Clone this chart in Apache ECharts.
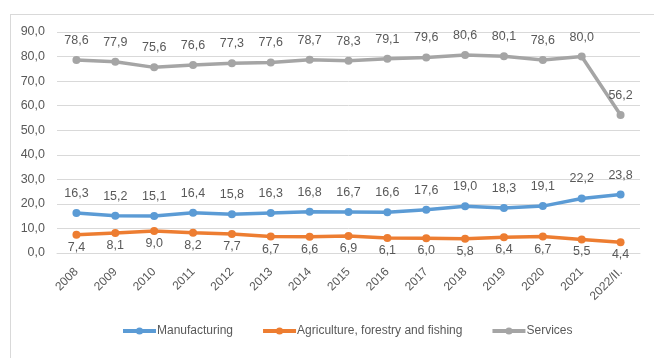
<!DOCTYPE html>
<html>
<head>
<meta charset="utf-8">
<script src="https://cdn.jsdelivr.net/npm/echarts@6/dist/echarts.min.js"></script>
<style>
  html, body { margin: 0; padding: 0; background: #fff; }
  #frame { position: absolute; left: 10px; top: 14px; width: 660px; height: 360px;
           border-left: 1px solid #d9d9d9; border-top: 1px solid #d9d9d9; }
  #chart { position: absolute; left: 0; top: 0; width: 654px; height: 358px; }
</style>
</head>
<body>
<div id="frame"></div>
<div id="chart"></div>
<script>
const years = ['2008','2009','2010','2011','2012','2013','2014','2015','2016','2017','2018','2019','2020','2021','2022/II.'];
const manufacturing = [16.3,15.2,15.1,16.4,15.8,16.3,16.8,16.7,16.6,17.6,19.0,18.3,19.1,22.2,23.8];
const agriculture = [7.4,8.1,9.0,8.2,7.7,6.7,6.6,6.9,6.1,6.0,5.8,6.4,6.7,5.5,4.4];
const services = [78.6,77.9,75.6,76.6,77.3,77.6,78.7,78.3,79.1,79.6,80.6,80.1,78.6,80.0,56.2];

const textColor = '#595959';
const font = 'Liberation Sans, Arial, sans-serif';
const fmt = v => v.toFixed(1).replace('.', ',');

function lineSeries(name, data, color, pos) {
  return {
    name: name,
    type: 'line',
    data: data,
    symbol: 'circle',
    symbolSize: 8,
    lineStyle: { width: 3.5, color: color },
    itemStyle: { color: color },
    label: {
      show: true,
      position: pos,
      distance: pos === 'top' ? 9 : 2,
      color: textColor,
      fontFamily: font,
      fontSize: 12.5,
      formatter: p => fmt(p.value)
    },
    emphasis: { disabled: true },
    animation: false
  };
}

const chart = echarts.init(document.getElementById('chart'));
chart.setOption({
  backgroundColor: 'transparent',
  grid: { left: 57, right: 14, top: 32, bottom: 105 },
  xAxis: {
    type: 'category',
    data: years,
    boundaryGap: true,
    axisLine: { show: true, lineStyle: { color: '#d9d9d9', width: 1 } },
    axisTick: { show: false },
    axisLabel: { rotate: 45, color: textColor, fontFamily: font, fontSize: 12, margin: 17, interval: 0 }
  },
  yAxis: {
    type: 'value',
    min: 0, max: 90, interval: 10,
    axisLine: { show: false },
    axisTick: { show: false },
    splitLine: { lineStyle: { color: '#d9d9d9', width: 1 } },
    axisLabel: { color: textColor, fontFamily: font, fontSize: 12.5, margin: 12, formatter: v => fmt(v) }
  },
  legend: {
    bottom: 21,
    left: 121,
    padding: 0,
    itemWidth: 33,
    itemHeight: 9,
    itemGap: 28,
    lineStyle: { width: 4 },
    textStyle: { color: textColor, fontFamily: font, fontSize: 12, padding: [0, 0, 0, -4] },
    data: ['Manufacturing', 'Agriculture, forestry and fishing', 'Services']
  },
  series: [
    lineSeries('Manufacturing', manufacturing, '#5b9bd5', 'top'),
    lineSeries('Agriculture, forestry and fishing', agriculture, '#ed7d31', 'bottom'),
    lineSeries('Services', services, '#a5a5a5', 'top')
  ]
});
</script>
</body>
</html>
